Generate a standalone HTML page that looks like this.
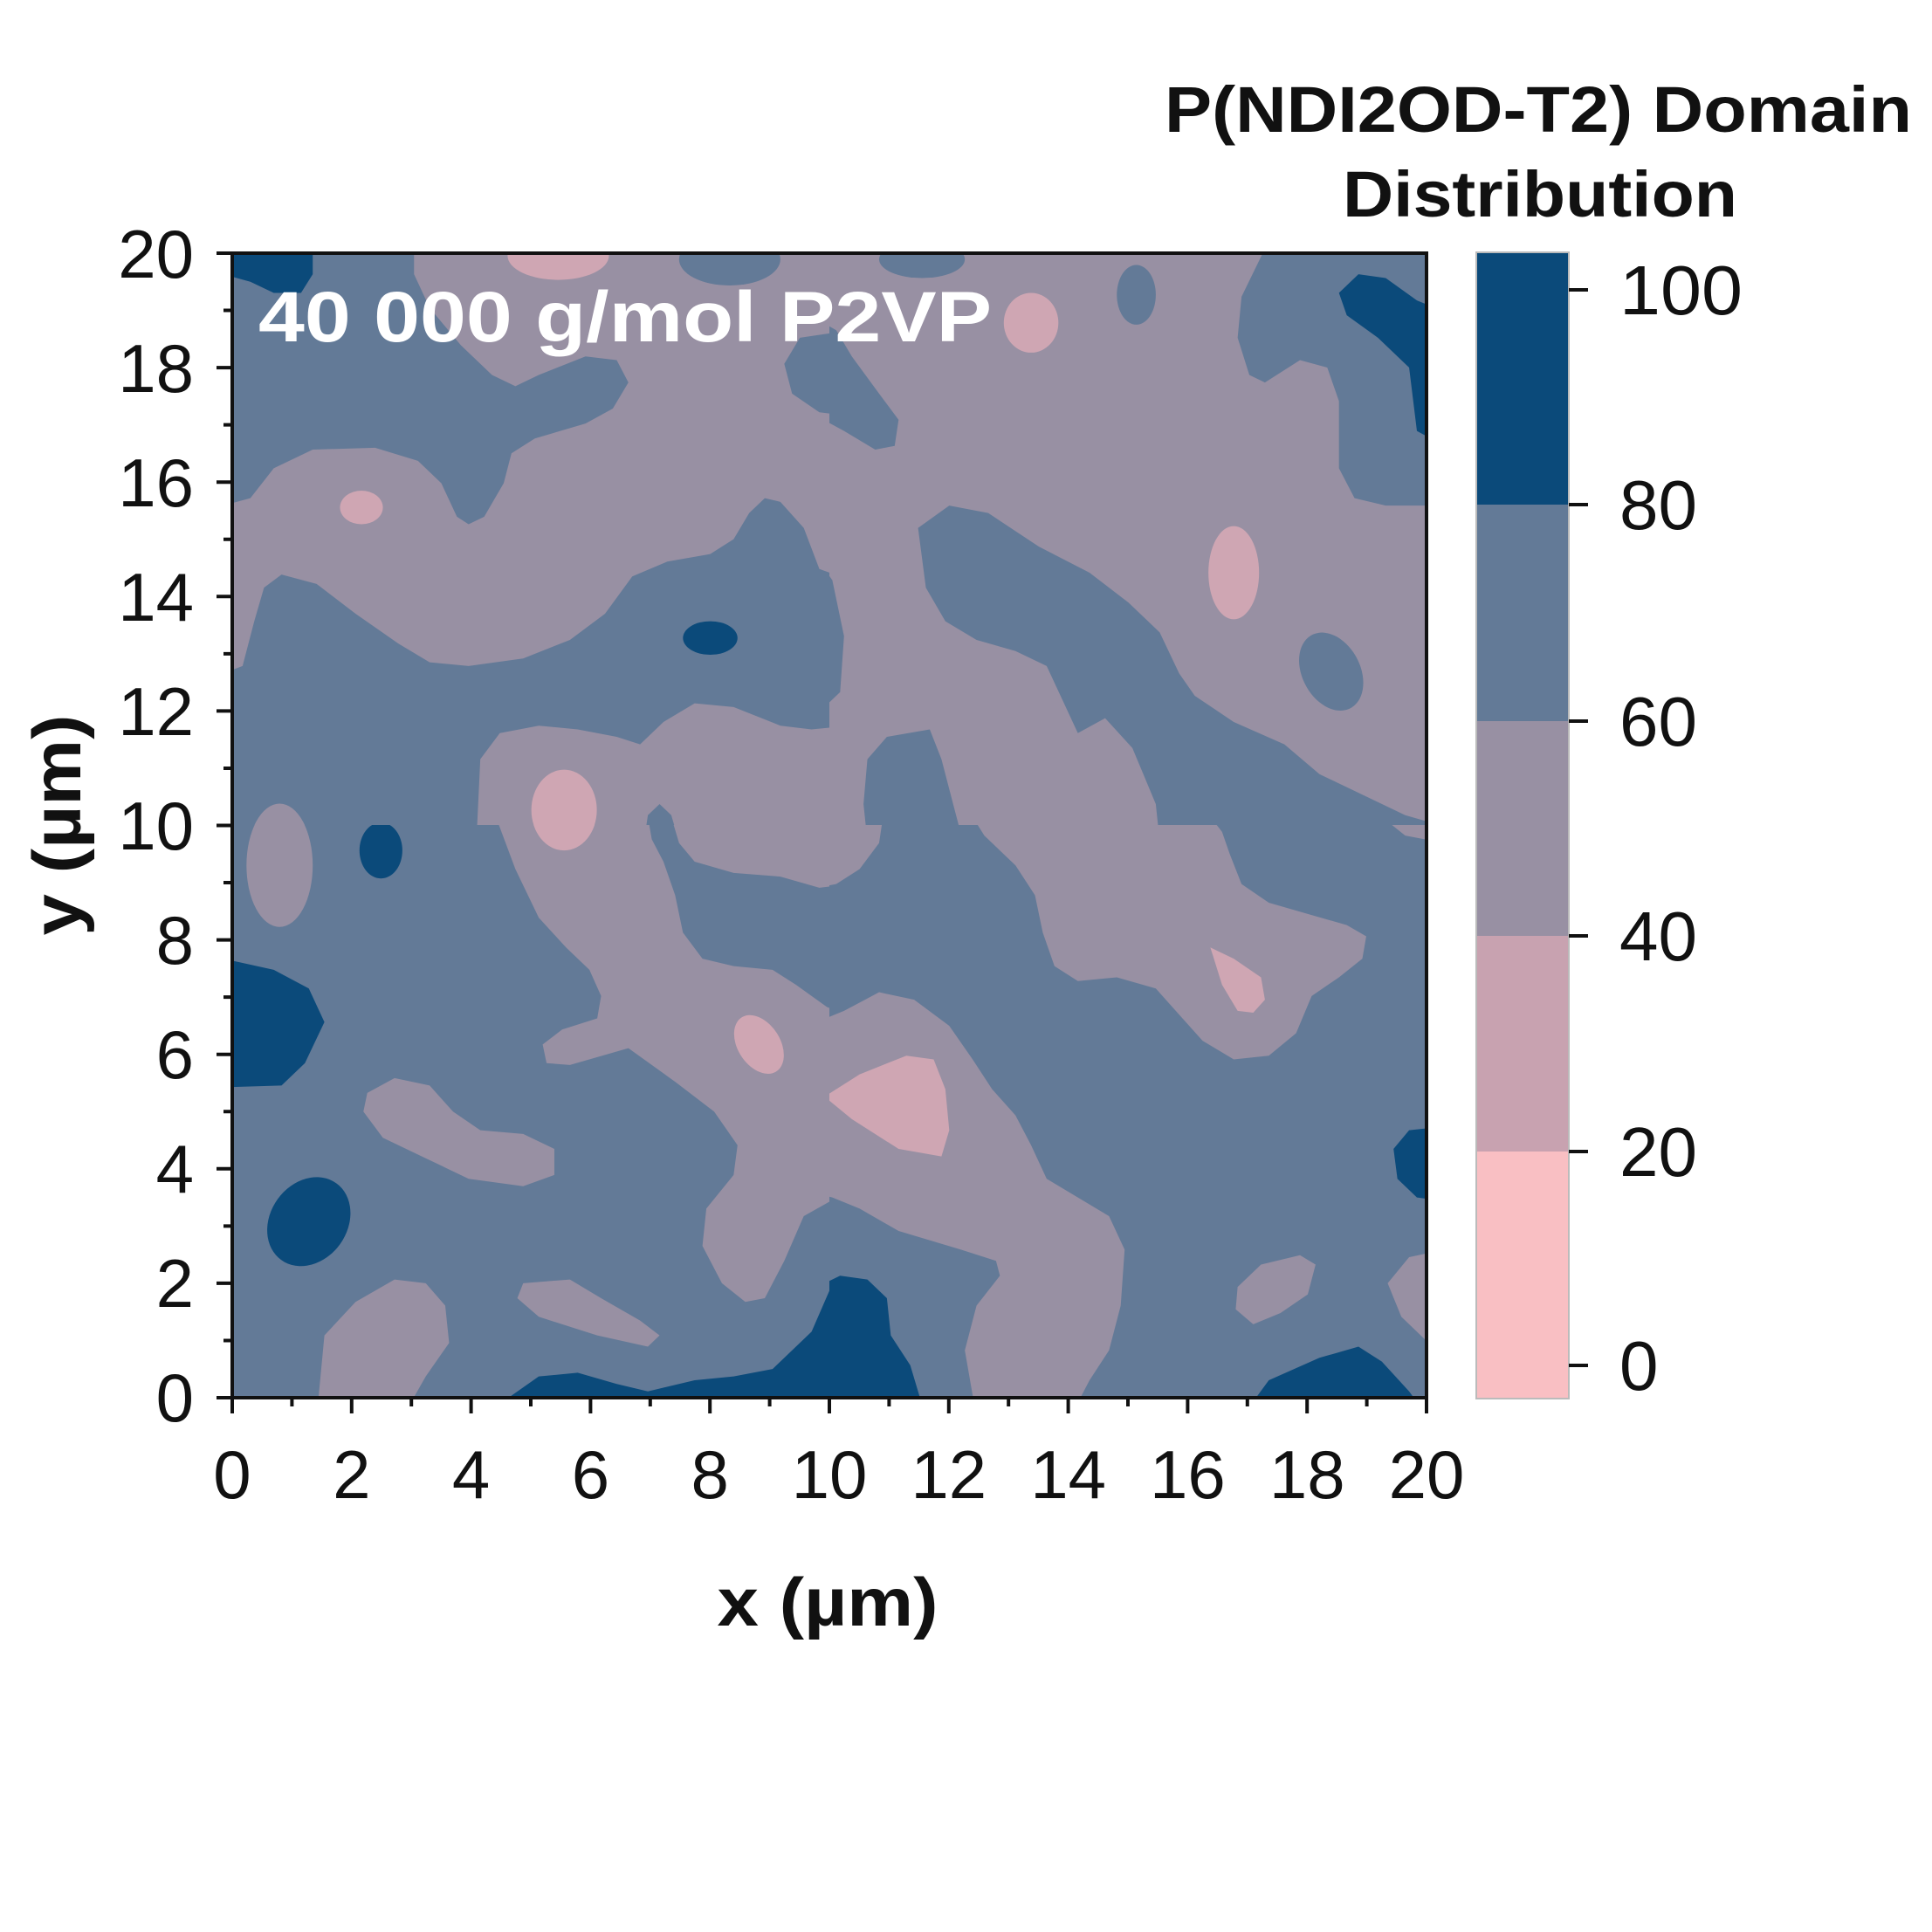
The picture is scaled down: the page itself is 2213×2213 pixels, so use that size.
<!DOCTYPE html>
<html><head><meta charset="utf-8"><style>html,body{margin:0;padding:0;background:#fff}svg{display:block}</style></head>
<body>
<svg width="2213" height="2213" viewBox="0 0 2213 2213" xmlns="http://www.w3.org/2000/svg" font-family="Liberation Sans, Arial, sans-serif">
<defs>
<clipPath id="c1"><rect x="266" y="290" width="684" height="655"/></clipPath>
<clipPath id="c2"><rect x="950" y="290" width="684" height="655"/></clipPath>
<clipPath id="c3"><rect x="266" y="945" width="684" height="656"/></clipPath>
<clipPath id="c4"><rect x="950" y="945" width="684" height="656"/></clipPath>
</defs>
<rect width="2213" height="2213" fill="#fff"/>

<!-- Q1 -->
<g clip-path="url(#c1)"><g transform="translate(260,280) scale(0.4464,0.4273)">
<rect x="-50" y="-50" width="1700" height="1700" fill="#637a97"/>
<path fill="#9890a3" d="M480,-10 L1600,-10 L1600,900 L1520,870 L1480,760 L1420,690 L1380,680 L1340,720 L1300,790 L1240,830 L1130,850 L1040,890 L970,990 L880,1060 L760,1110 L620,1130 L520,1120 L440,1070 L330,990 L230,910 L140,885 L95,920 L70,1010 L40,1130 L-10,1150 L-10,700 L60,680 L120,600 L220,550 L380,545 L490,580 L550,640 L590,730 L620,750 L660,730 L710,640 L730,560 L790,520 L920,480 L990,440 L1030,370 L1000,310 L920,300 L800,350 L740,380 L680,350 L600,270 L520,170 L480,80 Z"/>
<ellipse cx="1290" cy="40" rx="130" ry="70" fill="#637a97"/>
<path fill="#637a97" d="M1600,230 L1470,250 L1430,320 L1450,400 L1520,450 L1600,460 Z"/>
<path fill="#9890a3" d="M640,1600 L650,1380 L700,1310 L800,1290 L900,1300 L1000,1320 L1060,1340 L1120,1280 L1200,1230 L1300,1240 L1420,1290 L1500,1300 L1600,1290 L1600,1600 Z"/>
<path fill="#637a97" d="M1070,1600 L1080,1530 L1110,1500 L1140,1530 L1160,1600 Z"/>
<ellipse cx="135" cy="1664" rx="85" ry="165" fill="#9890a3"/>
<ellipse cx="850" cy="30" rx="130" ry="65" fill="#cfa6b3"/>
<ellipse cx="345" cy="705" rx="55" ry="45" fill="#cfa6b3"/>
<ellipse cx="865" cy="1516" rx="84" ry="108" fill="#cfa6b3"/>
<path fill="#0b4a7a" d="M-10,-10 L220,-10 L220,80 L190,130 L120,130 L60,100 L-10,80 Z"/>
<ellipse cx="1240" cy="1055" rx="70" ry="45" fill="#0b4a7a"/>
</g></g>

<!-- Q2 -->
<g clip-path="url(#c2)"><g transform="translate(940,280) scale(0.4464,0.4273)">
<rect x="-50" y="-50" width="1700" height="1750" fill="#9890a3"/>
<ellipse cx="260" cy="40" rx="110" ry="50" fill="#637a97"/>
<path fill="#637a97" d="M-10,200 L40,230 L80,300 L150,400 L200,470 L190,540 L140,550 L60,500 L-10,460 Z"/>
<path fill="#637a97" d="M-10,840 L30,900 L60,1050 L50,1200 L-10,1260 Z"/>
<ellipse cx="810" cy="135" rx="50" ry="80" fill="#637a97"/>
<path fill="#637a97" d="M1150,-10 L1080,140 L1070,250 L1100,350 L1140,370 L1230,310 L1300,330 L1330,420 L1330,600 L1370,680 L1450,700 L1600,700 L1600,-10 Z"/>
<path fill="#0b4a7a" d="M1330,130 L1380,80 L1450,90 L1530,150 L1600,180 L1600,540 L1530,500 L1510,330 L1430,250 L1350,190 Z"/>
<path fill="#637a97" d="M250,760 L330,700 L430,720 L560,810 L690,880 L790,960 L870,1040 L920,1150 L960,1210 L1060,1280 L1190,1340 L1280,1420 L1400,1480 L1500,1530 L1600,1560 L1600,1700 L880,1700 L860,1500 L800,1350 L730,1270 L660,1310 L620,1220 L580,1130 L500,1090 L400,1060 L320,1010 L270,920 Z"/>
<path fill="#637a97" d="M120,1380 L170,1320 L280,1300 L310,1380 L340,1500 L390,1700 L130,1700 L110,1500 Z"/>
<ellipse cx="540" cy="210" rx="70" ry="80" fill="#cfa6b3"/>
<ellipse cx="1060" cy="880" rx="65" ry="125" fill="#cfa6b3"/>
<ellipse cx="1310" cy="1145" rx="75" ry="110" transform="rotate(-25 1310 1145)" fill="#637a97"/>
</g></g>

<!-- Q3 -->
<g clip-path="url(#c3)"><g transform="translate(260,940) scale(0.4464,0.4273)">
<rect x="-50" y="-50" width="1700" height="1700" fill="#637a97"/>
<ellipse cx="135" cy="120" rx="85" ry="165" fill="#9890a3"/>
<path fill="#9890a3" d="M690,-10 L740,130 L800,260 L870,340 L930,400 L960,470 L950,530 L860,560 L810,600 L820,650 L880,655 L1030,610 L1150,700 L1250,780 L1310,870 L1300,950 L1230,1040 L1220,1140 L1270,1240 L1330,1290 L1380,1280 L1430,1180 L1480,1060 L1600,990 L1600,520 L1540,500 L1460,440 L1400,400 L1300,390 L1220,370 L1170,300 L1150,200 L1120,110 L1090,50 L1080,-10 Z"/>
<path fill="#9890a3" d="M1140,-10 L1160,60 L1200,110 L1300,140 L1420,150 L1520,180 L1600,170 L1600,-10 Z"/>
<ellipse cx="865" cy="-28" rx="84" ry="108" fill="#cfa6b3"/>
<ellipse cx="1365" cy="600" rx="55" ry="85" transform="rotate(-30 1365 600)" fill="#cfa6b3"/>
<path fill="#9890a3" d="M360,730 L430,690 L520,710 L580,780 L650,830 L760,840 L840,880 L840,950 L760,980 L620,960 L500,900 L400,850 L350,780 Z"/>
<path fill="#9890a3" d="M230,1600 L250,1380 L330,1290 L430,1230 L510,1240 L560,1300 L570,1400 L510,1490 L450,1600 Z"/>
<path fill="#9890a3" d="M760,1240 L880,1230 L960,1280 L1060,1340 L1110,1380 L1080,1410 L950,1380 L800,1330 L745,1280 Z"/>
<ellipse cx="395" cy="80" rx="55" ry="75" fill="#0b4a7a"/>
<path fill="#0b4a7a" d="M-10,370 L120,400 L210,450 L250,540 L200,650 L140,710 L-10,715 Z"/>
<ellipse cx="210" cy="1075" rx="100" ry="125" transform="rotate(30 210 1075)" fill="#0b4a7a"/>
<path fill="#0b4a7a" d="M650,1600 L800,1490 L900,1480 L1000,1510 L1080,1530 L1200,1500 L1300,1490 L1400,1470 L1500,1370 L1550,1250 L1600,1220 L1600,1600 Z"/>
</g></g>

<!-- Q4 -->
<g clip-path="url(#c4)"><g transform="translate(940,940) scale(0.4464,0.4273)">
<rect x="-50" y="-50" width="1700" height="1700" fill="#637a97"/>
<path fill="#9890a3" d="M-10,-10 L160,-10 L150,60 L100,130 L40,170 L-10,180 Z"/>
<path fill="#9890a3" d="M390,-10 L420,40 L500,120 L550,200 L570,300 L600,390 L660,430 L760,420 L860,450 L920,520 L980,590 L1060,640 L1150,630 L1220,570 L1260,470 L1330,420 L1390,370 L1400,310 L1350,280 L1250,250 L1150,220 L1080,170 L1050,90 L1030,30 L1000,-10 Z"/>
<path fill="#9890a3" d="M-10,540 L60,510 L150,460 L240,480 L330,550 L390,640 L440,720 L500,790 L540,870 L580,960 L660,1010 L740,1060 L780,1150 L770,1300 L740,1420 L690,1500 L640,1600 L400,1600 L370,1420 L400,1300 L460,1220 L450,1180 L360,1150 L200,1100 L100,1040 L30,1010 L-10,1000 Z"/>
<path fill="#cfa6b3" d="M10,740 L100,680 L220,630 L290,640 L320,720 L330,830 L310,900 L200,880 L80,800 Z"/>
<path fill="#9890a3" d="M1070,1250 L1130,1190 L1230,1165 L1270,1190 L1250,1270 L1180,1320 L1110,1350 L1065,1310 Z"/>
<path fill="#9890a3" d="M1600,1150 L1510,1170 L1455,1240 L1490,1330 L1550,1390 L1600,1400 Z"/>
<path fill="#9890a3" d="M1440,-10 L1500,40 L1600,60 L1600,-10 Z"/>
<path fill="#cfa6b3" d="M1000,340 L1060,370 L1130,420 L1140,480 L1110,515 L1070,510 L1030,440 Z"/>
<path fill="#0b4a7a" d="M-10,1250 L50,1220 L120,1230 L170,1280 L180,1380 L230,1460 L270,1600 L-10,1600 Z"/>
<path fill="#0b4a7a" d="M1080,1600 L1150,1500 L1280,1440 L1380,1410 L1440,1450 L1510,1530 L1560,1600 Z"/>
<path fill="#0b4a7a" d="M1600,820 L1510,830 L1470,880 L1480,960 L1530,1010 L1600,1020 Z"/>
</g></g>

<!-- frame -->
<rect x="266" y="290" width="1368" height="1311" fill="none" stroke="#111" stroke-width="4"/>
<path stroke="#111" stroke-width="4" fill="none" d="M266,1601v18 M402.8,1601v18 M539.6,1601v18 M676.4,1601v18 M813.2,1601v18 M950,1601v18 M1086.8,1601v18 M1223.6,1601v18 M1360.4,1601v18 M1497.2,1601v18 M1634,1601v18
M334.4,1601v10 M471.2,1601v10 M608,1601v10 M744.8,1601v10 M881.6,1601v10 M1018.4,1601v10 M1155.2,1601v10 M1292,1601v10 M1428.8,1601v10 M1565.6,1601v10
M266,1601h-18 M266,1469.9h-18 M266,1338.8h-18 M266,1207.7h-18 M266,1076.6h-18 M266,945.5h-18 M266,814.4h-18 M266,683.3h-18 M266,552.2h-18 M266,421.1h-18 M266,290h-18
M266,1535.45h-10 M266,1404.35h-10 M266,1273.25h-10 M266,1142.15h-10 M266,1011.05h-10 M266,879.95h-10 M266,748.85h-10 M266,617.75h-10 M266,486.65h-10 M266,355.55h-10"/>
<g font-size="78" fill="#111" text-anchor="middle">
<text x="266" y="1716">0</text><text x="402.8" y="1716">2</text><text x="539.6" y="1716">4</text><text x="676.4" y="1716">6</text><text x="813.2" y="1716">8</text><text x="950" y="1716">10</text><text x="1086.8" y="1716">12</text><text x="1223.6" y="1716">14</text><text x="1360.4" y="1716">16</text><text x="1497.2" y="1716">18</text><text x="1634" y="1716">20</text>
</g>
<g font-size="78" fill="#111" text-anchor="end">
<text x="222" y="1628">0</text><text x="222" y="1497">2</text><text x="222" y="1366">4</text><text x="222" y="1235">6</text><text x="222" y="1104">8</text><text x="222" y="973">10</text><text x="222" y="842">12</text><text x="222" y="711">14</text><text x="222" y="580">16</text><text x="222" y="449">18</text><text x="222" y="318">20</text>
</g>
<text x="948" y="1862" font-size="78" font-weight="bold" text-anchor="middle" fill="#111" textLength="253" lengthAdjust="spacingAndGlyphs">x (µm)</text>
<text transform="translate(92,945) rotate(-90)" font-size="78" font-weight="bold" text-anchor="middle" fill="#111" textLength="253" lengthAdjust="spacingAndGlyphs">y (µm)</text>
<text x="296" y="391" font-size="82" font-weight="bold" fill="#fff" textLength="840" lengthAdjust="spacingAndGlyphs">40 000 g/mol P2VP</text>

<!-- colorbar -->
<rect x="1691" y="289" width="106" height="289" fill="#0b4a7a"/>
<rect x="1691" y="578" width="106" height="248" fill="#637a97"/>
<rect x="1691" y="826" width="106" height="246" fill="#9890a3"/>
<rect x="1691" y="1072" width="106" height="247" fill="#c8a2b0"/>
<rect x="1691" y="1319" width="106" height="283" fill="#f9bfc3"/>
<rect x="1691" y="289" width="106" height="1313" fill="none" stroke="#bbb" stroke-width="2"/>
<path stroke="#111" stroke-width="4" d="M1797,332h22 M1797,578h22 M1797,826h22 M1797,1072h22 M1797,1319h22 M1797,1564h22"/>
<g font-size="80" fill="#111">
<text x="1855" y="360" textLength="141" lengthAdjust="spacingAndGlyphs">100</text><text x="1855" y="606">80</text><text x="1855" y="854">60</text><text x="1855" y="1100">40</text><text x="1855" y="1347">20</text><text x="1855" y="1592">0</text>
</g>
<text x="1334" y="151" font-size="74" font-weight="bold" fill="#111" textLength="856" lengthAdjust="spacingAndGlyphs">P(NDI2OD-T2) Domain</text>
<text x="1538" y="248" font-size="74" font-weight="bold" fill="#111" textLength="452" lengthAdjust="spacingAndGlyphs">Distribution</text>
</svg>
</body></html>
